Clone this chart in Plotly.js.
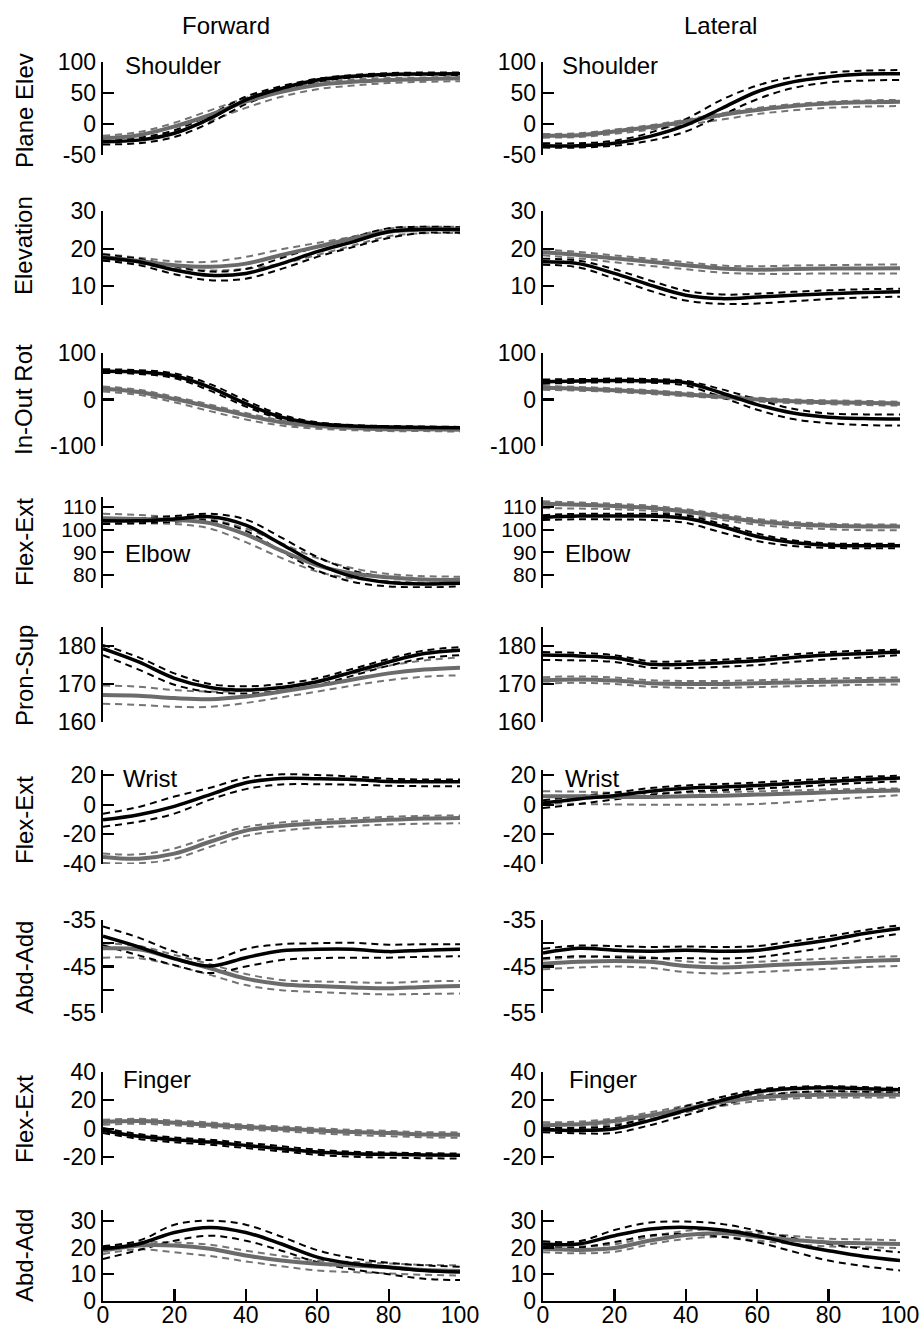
<!DOCTYPE html>
<html>
<head>
<meta charset="utf-8">
<script src="https://cdn.plot.ly/plotly-3.0.1.min.js"></script>
<style>html,body{margin:0;padding:0;background:#fff;}#chart{width:923px;height:1328px;}</style>
</head>
<body>
<div id="chart"></div>
<script>
// ---------------- DATA ----------------
const X = [0, 10, 20, 30, 40, 50, 60, 70, 80, 90, 100];
const COLUMN_TITLES = ["Forward", "Lateral"];
const ROW_TITLES = ["Plane Elev", "Elevation", "In-Out Rot", "Flex-Ext", "Pron-Sup", "Flex-Ext", "Abd-Add", "Flex-Ext", "Abd-Add"];
const JOINT_LABELS = ["Shoulder", "Elbow", "Wrist", "Finger"];
const X_TICKS = [0, 20, 40, 60, 80, 100];
const X_TICKTEXT = ["0", "20", "40", "60", "80", "100"];

// y tick values / labels per row
const Y_TICKS_1 = [-50, 0, 50, 100];       const Y_TEXT_1 = ["-50", "0", "50", "100"];
const Y_TICKS_2 = [10, 20, 30];            const Y_TEXT_2 = ["10", "20", "30"];
const Y_TICKS_3 = [-100, 0, 100];          const Y_TEXT_3 = ["-100", "0", "100"];
const Y_TICKS_4 = [80, 90, 100, 110];      const Y_TEXT_4 = ["80", "90", "100", "110"];
const Y_TICKS_5 = [160, 170, 180];         const Y_TEXT_5 = ["160", "170", "180"];
const Y_TICKS_6 = [-40, -20, 0, 20];       const Y_TEXT_6 = ["-40", "-20", "0", "20"];
const Y_TICKS_7 = [-55, -50, -45, -40, -35]; const Y_TEXT_7 = ["-55", "", "-45", "", "-35"];
const Y_TICKS_8 = [-20, 0, 20, 40];        const Y_TEXT_8 = ["-20", "0", "20", "40"];
const Y_TICKS_9 = [0, 10, 20, 30];         const Y_TEXT_9 = ["0", "10", "20", "30"];

// Row 1: Shoulder plane of elevation
const F1_B    = [-28.5, -26, -15, 9, 39, 57.5, 71, 77, 80, 80.6, 81];
const F1_B_HI = [-25, -22, -10, 15, 44, 61, 73, 79, 82, 83, 83];
const F1_B_LO = [-33, -31, -21, 2, 32, 53, 68, 75, 78, 79, 79];
const F1_G    = [-23, -18, -4, 14.5, 36, 52, 63, 68, 71, 72.5, 73.6];
const F1_G_HI = [-19, -13, 2, 22, 42, 57, 67, 72, 74, 75, 76];
const F1_G_LO = [-28, -24, -12, 5, 26, 44, 56, 62, 66, 68, 69];
const L1_B    = [-35, -35, -31, -20, -2, 25, 52, 68, 76, 80.6, 81];
const L1_B_HI = [-31, -31, -27, -14, 8, 39, 62, 76, 83, 86, 87];
const L1_B_LO = [-38, -38, -35, -27, -12, 14, 40, 58, 67, 70, 71];
const L1_G    = [-19, -18, -12, -5, 4, 14.5, 22.6, 29, 33, 35, 36];
const L1_G_HI = [-16, -15, -9, -2, 7, 17, 26, 32, 36, 38, 39];
const L1_G_LO = [-22, -21, -16, -9, -1, 7, 16, 22, 26, 28, 29];

// Row 2: Shoulder elevation
const F2_B    = [17.6, 16.5, 14.3, 12.9, 13.4, 16, 19.2, 21.8, 24.5, 25.1, 25];
const F2_B_HI = [18.4, 17.3, 15.3, 13.9, 14.6, 17.5, 20.5, 23, 25.4, 25.8, 25.7];
const F2_B_LO = [16.8, 15.6, 13.2, 11.6, 12, 14.6, 17.8, 20.4, 22.8, 24.2, 24.2];
const F2_G    = [17.8, 16.7, 15.6, 15.2, 16, 18.3, 20.5, 22.7, 24.5, 25.1, 25.1];
const F2_G_HI = [18.6, 17.6, 16.6, 16.5, 17.8, 19.8, 21.5, 23.2, 25.3, 25.8, 25.8];
const F2_G_LO = [17, 15.9, 14.7, 14.2, 14.6, 16, 18.3, 20.8, 23.3, 24.1, 24.1];
const L2_B    = [16.5, 16, 13.4, 10.3, 7.6, 6.7, 7.1, 7.6, 8, 8.3, 8.5];
const L2_B_HI = [17.3, 16.8, 14.5, 11.5, 8.8, 7.8, 8, 8.5, 8.9, 9.2, 9.3];
const L2_B_LO = [15.7, 15, 12, 8.8, 6.2, 5.3, 5.4, 6, 6.6, 7, 7.2];
const L2_G    = [19, 18.3, 17.4, 16.5, 15.6, 14.7, 14.4, 14.6, 14.7, 14.7, 14.8];
const L2_G_HI = [19.8, 19.1, 18.2, 17.3, 16.4, 15.5, 15.3, 15.5, 15.6, 15.7, 15.8];
const L2_G_LO = [18.2, 17.4, 16.4, 15.4, 14.5, 13.6, 13.3, 13.3, 13.4, 13.4, 13.4];

// Row 3: Shoulder in-out rotation
const F3_B    = [61, 59, 51, 26, -9, -38, -52, -57, -59, -60, -61];
const F3_B_HI = [65, 63, 56, 33, -2, -33, -49, -55, -57, -58, -59];
const F3_B_LO = [57, 55, 46, 19, -15, -42, -55, -59, -61, -62, -63];
const F3_G    = [23, 16, 1, -16, -34, -49, -57, -61, -64, -64, -65];
const F3_G_HI = [28, 21, 6, -11, -29, -45, -54, -59, -61, -62, -62];
const F3_G_LO = [17, 10, -6, -25, -43, -56, -63, -66, -68, -68, -69];
const L3_B    = [38, 40, 41, 40, 36, 14, -11, -29, -38, -41, -42];
const L3_B_HI = [43, 44, 45, 44, 40, 22, 0, -20, -30, -32, -32];
const L3_B_LO = [34, 36, 37, 36, 30, 5, -22, -42, -51, -55, -56];
const L3_G    = [25, 23, 20, 16, 11, 6, 0, -4, -6, -7, -9];
const L3_G_HI = [29, 27, 24, 20, 15, 10, 4, 0, -2, -3, -5];
const L3_G_LO = [21, 19, 16, 12, 7, 2, -4, -8, -10, -12, -13];

// Row 4: Elbow flexion-extension
const F4_B    = [103.9, 103.9, 104.7, 105.7, 102, 93.6, 85, 79.3, 76.7, 76.1, 76.4];
const F4_B_HI = [105, 105, 106, 107, 104.5, 96.5, 88, 82, 79, 78, 78];
const F4_B_LO = [102.5, 102.8, 103.5, 104, 99.5, 90.5, 82, 77, 75, 74.6, 75];
const F4_G    = [105, 104.7, 104.3, 102.9, 97.9, 90.7, 84.3, 80.7, 79, 78, 77.9];
const F4_G_HI = [107, 106.5, 105.5, 104.5, 100.5, 94, 87.5, 83, 80.5, 79.5, 79.3];
const F4_G_LO = [103, 102.8, 102.5, 100.5, 94.5, 87.5, 81.5, 78.5, 77.3, 76.6, 76.5];
const L4_B    = [105.4, 106, 106, 106, 105, 101.4, 97, 94.3, 93.1, 92.9, 92.9];
const L4_B_HI = [106.4, 107, 107, 107, 106.2, 102.6, 98.3, 95.3, 94, 93.8, 93.8];
const L4_B_LO = [104.3, 104.6, 104.5, 104.3, 103, 98.8, 95, 92.8, 92, 91.8, 91.8];
const L4_G    = [111.4, 111, 110.4, 109.6, 108, 105.7, 103.6, 102.4, 101.7, 101.4, 101.4];
const L4_G_HI = [112.5, 112, 111.4, 110.6, 109, 106.8, 104.7, 103.4, 102.6, 102.3, 102.3];
const L4_G_LO = [109.5, 109.3, 109, 108.3, 106.7, 104.3, 102.2, 100.9, 100.2, 99.8, 99.8];

// Row 5: Elbow pronation-supination
const F5_B    = [179.3, 175.8, 171.5, 169.1, 168.4, 169.1, 170.6, 173.2, 175.8, 178, 178.9];
const F5_B_HI = [180.3, 177, 172.8, 170, 169.4, 170, 171.5, 174, 176.6, 178.8, 179.7];
const F5_B_LO = [177.6, 173.8, 169.8, 167.9, 167.5, 168.2, 169.7, 172.2, 174.8, 176.8, 177.6];
const F5_G    = [167.1, 166.9, 166.3, 166, 166.7, 168, 169.5, 171.2, 172.8, 173.8, 174.3];
const F5_G_HI = [169.6, 169.3, 168.4, 168, 168.2, 169.1, 170.8, 172.8, 174.8, 176.2, 177];
const F5_G_LO = [164.8, 164.5, 164, 164, 165, 166.5, 168, 169.6, 171, 171.9, 172.3];
const L5_B    = [177.6, 177.4, 176.9, 175.2, 175.2, 175.6, 176.1, 177, 177.6, 178, 178.4];
const L5_B_HI = [178.4, 178.2, 177.6, 176, 176, 176.4, 176.9, 177.8, 178.4, 178.8, 179];
const L5_B_LO = [176.3, 176.2, 175.8, 174.3, 174.2, 174.5, 175, 175.8, 176.5, 177, 177.6];
const L5_G    = [171, 171.2, 170.9, 170.2, 170, 170, 170.2, 170.4, 170.6, 170.8, 170.9];
const L5_G_HI = [171.8, 172, 171.7, 171, 170.8, 170.8, 171, 171.2, 171.4, 171.6, 171.7];
const L5_G_LO = [170.1, 170.3, 170, 169.3, 169, 169, 169.2, 169.4, 169.6, 169.8, 169.9];

// Row 6: Wrist flexion-extension
const F6_B    = [-10.2, -6.8, -1.1, 6.8, 14.8, 17.7, 17.5, 17, 15.7, 15.5, 15.5];
const F6_B_HI = [-6.1, -1.5, 5.5, 11.4, 18.2, 20.5, 20, 19, 17.5, 17, 17];
const F6_B_LO = [-14.8, -11.5, -6, 3.4, 10.5, 13.6, 13.8, 13.5, 12.8, 12.5, 12.5];
const F6_G    = [-35.2, -36.4, -33, -25, -17.5, -14.3, -12.5, -11.4, -10.2, -9.3, -8.9];
const F6_G_HI = [-33, -33.5, -29.5, -21.6, -15, -12, -10.3, -9.2, -8.2, -7.5, -7.3];
const F6_G_LO = [-39.3, -39.5, -36.5, -28.4, -21, -17.5, -15.5, -14.3, -13.3, -12.8, -12.5];
const L6_B    = [1.1, 3.9, 6.1, 9.1, 11.1, 12, 13, 14.3, 15.7, 17, 18];
const L6_B_HI = [3, 5.8, 8.2, 11.2, 13, 14, 15, 16.3, 17.6, 18.8, 19.5];
const L6_B_LO = [-2.3, 0.5, 3.5, 6.5, 8.7, 9.8, 10.8, 12, 13.4, 14.8, 15.8];
const L6_G    = [5.7, 5.7, 5.2, 5.2, 5.7, 6.1, 6.8, 7.5, 8.4, 9.1, 9.5];
const L6_G_HI = [9.1, 8.8, 8, 7.8, 8.2, 8.5, 9, 9.6, 10.3, 10.7, 10.9];
const L6_G_LO = [1.1, 0.5, 0.2, 0, 0, 0, 0.5, 1.8, 3.4, 5, 6.4];

// Row 7: Wrist abduction-adduction
const F7_B    = [-38.5, -40.8, -43.3, -44.9, -43.1, -41.6, -41.3, -41.3, -41.8, -41.5, -41.3];
const F7_B_HI = [-36.4, -38.8, -41.8, -43.6, -41.2, -40.2, -40, -39.9, -40.3, -40.2, -40.2];
const F7_B_LO = [-40.4, -42.6, -44.7, -46.4, -45, -43.6, -43.2, -43.1, -43.1, -42.9, -42.8];
const F7_G    = [-41.1, -41.3, -43.3, -45.4, -47.6, -48.8, -49.2, -49.5, -49.7, -49.4, -49.2];
const F7_G_HI = [-40, -40.6, -42.5, -44.5, -46.6, -47.9, -48.2, -48.4, -48.5, -48.2, -48.1];
const F7_G_LO = [-43.1, -43.2, -44.8, -46.8, -49, -50.1, -50.5, -50.8, -51, -50.9, -50.8];
const L7_B    = [-42.1, -41.1, -41.5, -41.7, -41.5, -41.7, -41.5, -40.4, -39.3, -37.9, -36.8];
const L7_B_HI = [-41.2, -40.5, -40.6, -40.8, -40.7, -40.8, -40.6, -39.6, -38.5, -37.2, -36.1];
const L7_B_LO = [-43.2, -42.8, -43, -43.2, -43.2, -43.3, -43, -42, -40.8, -39.2, -37.9];
const L7_G    = [-44.4, -44, -43.8, -44, -44.9, -45.2, -44.9, -44.5, -44.2, -43.8, -43.6];
const L7_G_HI = [-43.5, -43, -42.8, -43, -43.9, -44.3, -44, -43.6, -43.3, -43, -42.8];
const L7_G_LO = [-45.6, -45.2, -45, -45.3, -46.2, -46.5, -46.2, -45.8, -45.5, -45.1, -44.9];

// Row 8: Finger flexion-extension
const F8_B    = [-1.2, -5.4, -7.8, -9.4, -11.8, -14.1, -16.5, -17.6, -18.1, -18.6, -18.8];
const F8_B_HI = [0.5, -3.8, -6.2, -7.8, -10, -12.3, -14.8, -16.2, -16.8, -17.3, -17.5];
const F8_B_LO = [-3, -7.2, -9.6, -11.3, -13.6, -16, -18.4, -19.8, -20.4, -20.8, -21];
const F8_G    = [4.7, 5.4, 4.2, 2.8, 1.2, 0, -1.2, -2.4, -3.1, -4, -4.2];
const F8_G_HI = [6.3, 7, 5.8, 4.4, 2.8, 1.6, 0.4, -0.8, -1.5, -2.4, -2.6];
const F8_G_LO = [2.8, 3.5, 2.4, 1, -0.6, -1.8, -3.2, -4.4, -5.2, -6, -6.4];
const L8_B    = [-0.7, -1.2, 0, 5.9, 12.9, 20, 25.9, 28.2, 28.9, 28.2, 27.5];
const L8_B_HI = [1, 0.5, 2, 8.5, 15.8, 22.4, 27.5, 29.5, 30, 29.4, 28.7];
const L8_B_LO = [-2.5, -3.2, -3, 2.5, 9.5, 16.5, 22.5, 25.5, 26.5, 26, 25.5];
const L8_G    = [2.4, 3.1, 5.4, 9.4, 14.1, 18.8, 21.9, 23.5, 24, 24, 24];
const L8_G_HI = [4.5, 5, 7.3, 11.5, 16.3, 21, 24, 25.5, 26, 26, 26];
const L8_G_LO = [0.4, 1, 3.3, 7, 11.6, 16, 19.5, 21.3, 22, 22, 22];

// Row 9: Finger abduction-adduction
const F9_B    = [19.5, 21.3, 25.6, 27.5, 25.6, 21.3, 16.4, 13.9, 12.6, 11.4, 10.8];
const F9_B_HI = [20.5, 22.5, 28.5, 30, 28.5, 24, 19, 16, 14.3, 13.3, 12.8];
const F9_B_LO = [15.7, 19, 22.5, 24.4, 22.5, 18.8, 14.5, 11.8, 10, 8.3, 7.8];
const F9_G    = [18.8, 20.7, 20.7, 19.5, 17, 15.1, 13.9, 13.3, 12.6, 11.6, 11.2];
const F9_G_HI = [19.8, 21.9, 21.9, 21, 18.8, 16.8, 15.1, 14.6, 14, 13.5, 13.3];
const F9_G_LO = [17.5, 19.3, 18.2, 16.8, 14.8, 13, 11.4, 10.8, 10.3, 9.8, 9.5];
const L9_B    = [21.3, 21.3, 24.4, 26.9, 27.5, 26.5, 24.4, 21.3, 18.8, 16.6, 15.1];
const L9_B_HI = [22.3, 22.3, 26.5, 29.3, 29.7, 28.8, 26.3, 23.5, 21.3, 19.5, 18.2];
const L9_B_LO = [20, 20, 22, 24.5, 25, 24, 22, 18.5, 15.1, 13, 11.4];
const L9_G    = [19.5, 19.1, 19.8, 22.6, 24.7, 25.3, 24, 22.8, 21.9, 21.6, 21.3];
const L9_G_HI = [20.8, 20.4, 21.2, 24, 26.2, 26.7, 25.5, 24.3, 23.3, 23, 22.7];
const L9_G_LO = [18.2, 17.8, 18.4, 21.2, 23.2, 23.9, 22.6, 21.3, 20.4, 20.1, 19.8];

// ---------------- ASSEMBLY ----------------
const PANELS = [
  [[F1_B, F1_B_HI, F1_B_LO, F1_G, F1_G_HI, F1_G_LO], [L1_B, L1_B_HI, L1_B_LO, L1_G, L1_G_HI, L1_G_LO]],
  [[F2_B, F2_B_HI, F2_B_LO, F2_G, F2_G_HI, F2_G_LO], [L2_B, L2_B_HI, L2_B_LO, L2_G, L2_G_HI, L2_G_LO]],
  [[F3_B, F3_B_HI, F3_B_LO, F3_G, F3_G_HI, F3_G_LO], [L3_B, L3_B_HI, L3_B_LO, L3_G, L3_G_HI, L3_G_LO]],
  [[F4_B, F4_B_HI, F4_B_LO, F4_G, F4_G_HI, F4_G_LO], [L4_B, L4_B_HI, L4_B_LO, L4_G, L4_G_HI, L4_G_LO]],
  [[F5_B, F5_B_HI, F5_B_LO, F5_G, F5_G_HI, F5_G_LO], [L5_B, L5_B_HI, L5_B_LO, L5_G, L5_G_HI, L5_G_LO]],
  [[F6_B, F6_B_HI, F6_B_LO, F6_G, F6_G_HI, F6_G_LO], [L6_B, L6_B_HI, L6_B_LO, L6_G, L6_G_HI, L6_G_LO]],
  [[F7_B, F7_B_HI, F7_B_LO, F7_G, F7_G_HI, F7_G_LO], [L7_B, L7_B_HI, L7_B_LO, L7_G, L7_G_HI, L7_G_LO]],
  [[F8_B, F8_B_HI, F8_B_LO, F8_G, F8_G_HI, F8_G_LO], [L8_B, L8_B_HI, L8_B_LO, L8_G, L8_G_HI, L8_G_LO]],
  [[F9_B, F9_B_HI, F9_B_LO, F9_G, F9_G_HI, F9_G_LO], [L9_B, L9_B_HI, L9_B_LO, L9_G, L9_G_HI, L9_G_LO]]
];
const YTICKS = [Y_TICKS_1, Y_TICKS_2, Y_TICKS_3, Y_TICKS_4, Y_TICKS_5, Y_TICKS_6, Y_TICKS_7, Y_TICKS_8, Y_TICKS_9];
const YTEXT  = [Y_TEXT_1, Y_TEXT_2, Y_TEXT_3, Y_TEXT_4, Y_TEXT_5, Y_TEXT_6, Y_TEXT_7, Y_TEXT_8, Y_TEXT_9];

// layout geometry (pixels)
const W = 923, H = 1328;
const Y_RANGES = [[-50, 100], [5, 30], [-100, 100], [74.3, 114.4], [160, 185], [-40, 23.4], [-55, -35], [-25.6, 40], [0, 34]];
const ROW_PX = [[62, 155], [211, 305], [353, 446], [497, 588], [627, 722], [770, 864], [920, 1013], [1072, 1165], [1210, 1301]];
const COL_PX = [[103, 460], [543, 900]];
const ROW_TITLE_Y = [111, 246, 400, 542, 676, 820, 968, 1119, 1256];
const JOINT_POS = [[0, 66, [123, 560]], [3, 553, [123, 563]], [5, 778, [121, 563]], [7, 1079, [121, 567]]];
const ROW_TICK_SIZE = [23, 23, 23, 21, 23, 23, 23, 23, 23];

const FONT = "Liberation Sans, Arial, Helvetica, sans-serif";
const BLACK = "#000000", GRAY = "#6b6b6b", GRAY_D = "#747474";
const TICK_SIZE = 23, TEXT_SIZE = 24;

const traces = [];
const layout = {
  width: W, height: H, margin: {l: 0, r: 0, t: 0, b: 0},
  paper_bgcolor: "#fff", plot_bgcolor: "rgba(0,0,0,0)",
  showlegend: false, font: {family: FONT, size: TEXT_SIZE, color: "#000"},
  annotations: []
};

for (let r = 0; r < 9; r++) {
  for (let c = 0; c < 2; c++) {
    const i = r * 2 + c + 1;
    const xa = i === 1 ? "x" : "x" + i;
    const ya = i === 1 ? "y" : "y" + i;
    const [B, BH, BL, G, GH, GL] = PANELS[r][c];
    const mk = (y, color, width, dash) => ({
      x: X, y: y, xaxis: xa, yaxis: ya, type: "scatter", mode: "lines",
      line: {color: color, width: width, dash: dash, shape: "spline", smoothing: 1},
      hoverinfo: "skip"
    });
    traces.push(mk(GH, GRAY_D, 2, "7px,5px"));
    traces.push(mk(GL, GRAY_D, 2, "7px,5px"));
    traces.push(mk(BH, BLACK, 2, "7px,5px"));
    traces.push(mk(BL, BLACK, 2, "7px,5px"));
    traces.push(mk(G, GRAY, 4, "solid"));
    traces.push(mk(B, BLACK, 3.5, "solid"));

    const [top, bot] = ROW_PX[r];
    const [lft, rgt] = COL_PX[c];
    const xKey = i === 1 ? "xaxis" : "xaxis" + i;
    const yKey = i === 1 ? "yaxis" : "yaxis" + i;
    const isBottom = r === 8;
    layout[xKey] = {
      domain: [lft / W, rgt / W], range: [0, 100], anchor: ya,
      visible: isBottom, showgrid: false, zeroline: false,
      showline: true, linecolor: BLACK, linewidth: 2.4,
      ticks: "inside", ticklen: 12, tickwidth: 2.2, tickcolor: BLACK,
      tickmode: "array", tickvals: X_TICKS, ticktext: X_TICKTEXT,
      tickfont: {family: FONT, size: TICK_SIZE, color: BLACK}, ticklabelstandoff: -8,
      fixedrange: true
    };
    layout[yKey] = {
      domain: [1 - bot / H, 1 - top / H], range: Y_RANGES[r], anchor: xa,
      showgrid: false, zeroline: false,
      showline: true, linecolor: BLACK, linewidth: 2.4,
      ticks: "inside", ticklen: 11, tickwidth: 2.2, tickcolor: BLACK,
      tickmode: "array", tickvals: YTICKS[r], ticktext: YTEXT[r],
      tickfont: {family: FONT, size: ROW_TICK_SIZE[r], color: BLACK}, ticklabelstandoff: 0,
      fixedrange: true
    };
  }
  layout.annotations.push({
    text: ROW_TITLES[r], xref: "paper", yref: "paper", x: 24 / W, y: 1 - ROW_TITLE_Y[r] / H,
    xanchor: "center", yanchor: "middle", textangle: -90, showarrow: false,
    font: {family: FONT, size: TEXT_SIZE, color: BLACK}
  });
}

COLUMN_TITLES.forEach((t, c) => {
  layout.annotations.push({
    text: t, xref: "paper", yref: "paper", x: [226, 720][c] / W, y: 1 - 25 / H,
    xanchor: "center", yanchor: "middle", showarrow: false,
    font: {family: FONT, size: TEXT_SIZE, color: BLACK}
  });
});

JOINT_POS.forEach((jp, k) => {
  const [, ypx, xs] = jp;
  xs.forEach(xpx => {
    layout.annotations.push({
      text: JOINT_LABELS[k], xref: "paper", yref: "paper", x: xpx / W, y: 1 - ypx / H,
      xanchor: "left", yanchor: "middle", showarrow: false,
      font: {family: FONT, size: TEXT_SIZE, color: BLACK}
    });
  });
});

Plotly.newPlot("chart", traces, layout, {displayModeBar: false, staticPlot: true});
</script>
</body>
</html>
